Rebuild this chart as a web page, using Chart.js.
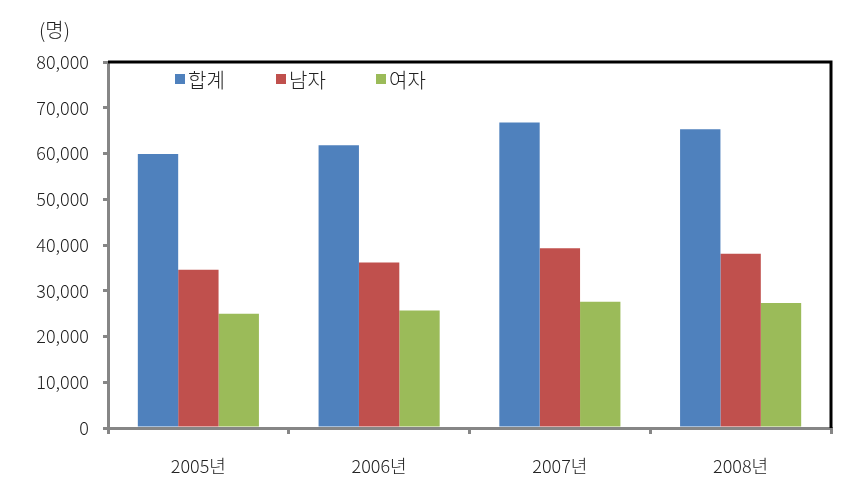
<!DOCTYPE html>
<html>
<head>
<meta charset="utf-8">
<script src="https://cdn.jsdelivr.net/npm/chart.js@4"></script>
<style>
    body { margin: 0; background: #fff; }
    #wrap { width: 859px; height: 504px; }
</style>
</head>
<body>
<div id="wrap"><canvas id="graph-canvas" width="859" height="504"></canvas></div>
<script>
const years = ['2005년', '2006년', '2007년', '2008년'];
const total = [59900, 61800, 66800, 65300];
const male = [34600, 36200, 39300, 38100];
const female = [25000, 25700, 27600, 27300];
const seriesNames = ['합계', '남자', '여자'];
const colors = ['#4F81BD', '#C0504D', '#9BBB59'];

const FONT = '"Noto Sans CJK KR", "Noto Sans", sans-serif';

// legend inside the plot, unit label, black top/right frame
const extras = {
    id: 'extras',
    afterDraw(chart) {
        let ctx = chart.ctx;
        let area = chart.chartArea;
        ctx.save();

        ctx.strokeStyle = '#000';
        ctx.lineWidth = 3;
        ctx.beginPath();
        ctx.moveTo(area.left, area.top);
        ctx.lineTo(area.right, area.top);
        ctx.lineTo(area.right, area.bottom);
        ctx.stroke();

        ctx.font = '300 20px ' + FONT;
        ctx.fillStyle = '#222';
        ctx.textBaseline = 'middle';
        ctx.textAlign = 'left';
        ctx.fillText('(명)', 39, 30);

        let xs = [175, 276, 376];
        chart.data.datasets.forEach((ds, i) => {
            ctx.fillStyle = ds.backgroundColor;
            ctx.fillRect(xs[i], 74, 10, 10);
            ctx.fillStyle = '#222';
            ctx.font = '300 20px ' + FONT;
            ctx.fillText(ds.label, xs[i] + 13, 80);
        });
        ctx.restore();
    }
};

new Chart(document.getElementById('graph-canvas'), {
    type: 'bar',
    data: {
        labels: years,
        datasets: [
            { label: seriesNames[0], data: total, backgroundColor: colors[0] },
            { label: seriesNames[1], data: male, backgroundColor: colors[1] },
            { label: seriesNames[2], data: female, backgroundColor: colors[2] }
        ]
    },
    options: {
        responsive: false,
        animation: false,
        layout: { padding: { top: 62, right: 28, left: 0, bottom: 0 } },
        datasets: {
            bar: { categoryPercentage: 0.67, barPercentage: 1.0 }
        },
        plugins: {
            legend: { display: false },
            tooltip: { enabled: false }
        },
        scales: {
            x: {
                grid: { drawOnChartArea: false, color: '#868686', lineWidth: 3, tickLength: 6 },
                border: { color: '#868686', width: 3 },
                ticks: { color: '#222', font: { family: FONT, size: 18, weight: 300 }, padding: 21 },
                afterFit(scale) { scale.height = 76; }
            },
            y: {
                min: 0,
                max: 80000,
                grid: { drawOnChartArea: false, color: '#868686', lineWidth: 3, tickLength: 5 },
                border: { color: '#868686', width: 3 },
                ticks: {
                    stepSize: 10000,
                    color: '#222',
                    padding: 14,
                    font: { family: FONT, size: 18, weight: 300 },
                    callback: v => v.toLocaleString('en-US')
                },
                afterFit(scale) { scale.width = 108; }
            }
        }
    },
    plugins: [extras]
});
</script>
</body>
</html>
